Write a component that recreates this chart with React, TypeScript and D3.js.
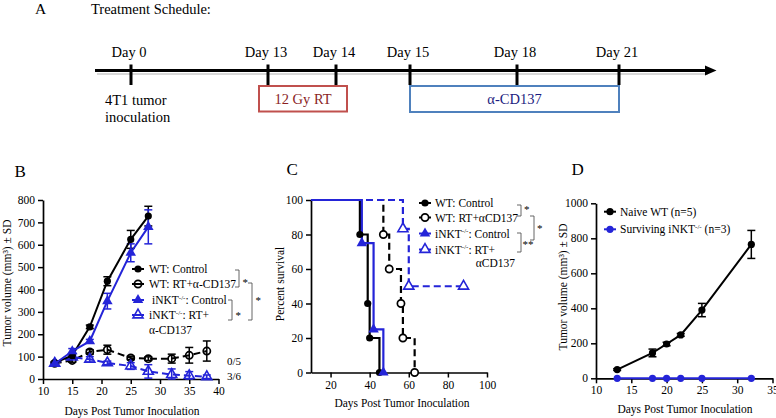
import React, { useEffect, useRef } from "react";
import * as d3 from "d3";

const FONT = "'Liberation Serif', 'Times New Roman', serif";
const BLUE = "#2424d8";
const BLACK = "#000";

// ---------- Panel A: treatment schedule ----------
const scheduleDays = [0, 13, 14, 15, 18, 21];
const scheduleLabels = ["Day 0", "Day 13", "Day 14", "Day 15", "Day 18", "Day 21"];
const rtWindow = [13, 14];
const cd137Window = [15, 21];

// ---------- Panel B: tumor growth ----------
const bDaysControl = [12, 15, 18, 21, 25, 28];
const bDaysTreated = [12, 15, 18, 21, 25, 28, 32, 35, 38];
const bWtControl = [72, 105, 233, 437, 624, 728];
const bWtControlSd = [6, 8, 8, 20, 40, 44];
const bKoControl = [68, 124, 169, 348, 564, 680];
const bKoControlSd = [6, 12, 8, 35, 40, 76];
const bWtRt = [70, 83, 121, 131, 94, 91, 91, 106, 125];
const bWtRtSd = [5, 8, 10, 20, 8, 8, 20, 35, 45];
const bKoRt = [70, 98, 88, 72, 58, 34, 20, 15, 10];
const bKoRtSd = [5, 8, 12, 8, 15, 30, 25, 18, 8];
const bXTicks = [10, 15, 20, 25, 30, 35, 40];
const bYTicks = [0, 100, 200, 300, 400, 500, 600, 700, 800];

// ---------- Panel C: survival ----------
const cWtControlDays = [10, 35, 39, 40, 45];
const cWtControlSurv = [100, 80, 40, 20, 0];
const cWtRtDays = [10, 47, 50, 56, 57, 63];
const cWtRtSurv = [100, 80, 60, 40, 20, 0];
const cKoControlDays = [10, 36, 42, 47];
const cKoControlSurv = [100, 75, 25, 0];
const cKoRtDays = [10, 57, 60, 88];
const cKoRtSurv = [100, 83.3, 50, 50];
const cXTicks = [20, 40, 60, 80, 100];
const cYTicks = [0, 20, 40, 60, 80, 100];

// ---------- Panel D: rechallenge ----------
const dDays = [13, 18, 20, 22, 25, 32];
const dNaive = [50, 145, 196, 248, 390, 765];
const dNaiveSd = [5, 22, 10, 8, 38, 80];
const dSurviving = [0, 0, 0, 0, 0, 0];
const dXTicks = [10, 15, 20, 25, 30, 35];
const dYTicks = [0, 200, 400, 600, 800, 1000];

type Sel = d3.Selection<any, any, any, any>;

function marker(g: Sel, kind: string, cx: number, cy: number, color: string, fill = "none") {
  if (kind === "circle") {
    g.append("circle").attr("cx", cx).attr("cy", cy).attr("r", 3.6).attr("fill", color);
  } else if (kind === "ocircle") {
    g.append("circle").attr("cx", cx).attr("cy", cy).attr("r", 3.6)
      .attr("fill", fill).attr("stroke", color).attr("stroke-width", 1.7);
  } else if (kind === "tri") {
    g.append("path").attr("d", d3.symbol(d3.symbolTriangle, 48)())
      .attr("transform", `translate(${cx},${cy})`).attr("fill", color);
  } else if (kind === "otri") {
    g.append("path").attr("d", d3.symbol(d3.symbolTriangle, 44)())
      .attr("transform", `translate(${cx},${cy})`)
      .attr("fill", fill).attr("stroke", color).attr("stroke-width", 1.6);
  }
}

function axes(g: Sel, x: any, y: any, xTicks: number[], yTicks: number[]) {
  const y0 = y.range()[0];
  const x0 = x.range()[0];
  const ax = g.append("g").attr("transform", `translate(0,${y0})`)
    .call(d3.axisBottom(x).tickValues(xTicks).tickSize(5).tickSizeOuter(0).tickFormat(d3.format("d")));
  const ay = g.append("g").attr("transform", `translate(${x0},0)`)
    .call(d3.axisLeft(y).tickValues(yTicks).tickSize(5).tickSizeOuter(0).tickFormat(d3.format("d")));
  [ax, ay].forEach((a) => {
    a.attr("font-family", FONT).attr("font-size", 11.5);
    a.select(".domain").attr("stroke-width", 1.7).attr("stroke", BLACK);
    a.selectAll(".tick line").attr("stroke-width", 1.5).attr("stroke", BLACK);
    a.selectAll(".tick text").attr("fill", BLACK);
  });
}

function koText(t: Sel, before: string, after: string) {
  t.append("tspan").text(before + "iNKT");
  t.append("tspan").attr("font-size", 7).attr("dy", -4.5).text("-/-");
  t.append("tspan").attr("dy", 4.5).text(after);
}

function legendRow(g: Sel, mx: number, cy: number, kind: string, color: string, fill = "none") {
  g.append("line").attr("x1", mx - 6).attr("x2", mx + 6).attr("y1", cy).attr("y2", cy)
    .attr("stroke", color).attr("stroke-width", 2);
  marker(g, kind, mx, cy, color, fill);
}

function bracket(g: Sel, x: number, y1: number, y2: number, stars: string, sx: number, sy: number) {
  g.append("path").attr("d", `M${x - 4},${y1}H${x}V${y2}H${x - 4}`)
    .attr("fill", "none").attr("stroke", "#555").attr("stroke-width", 0.9);
  g.append("text").attr("x", sx).attr("y", sy).attr("font-size", 11).text(stars);
}

function errorSeries(g: Sel, x: any, y: any, days: number[], vals: number[], sds: number[], color: string) {
  days.forEach((d, i) => {
    const cx = x(d);
    const top = y(vals[i] + sds[i]);
    const bot = y(Math.max(0, vals[i] - sds[i]));
    g.append("line").attr("x1", cx).attr("x2", cx).attr("y1", top).attr("y2", bot)
      .attr("stroke", color).attr("stroke-width", 1.5);
    [top, bot].forEach((yy) =>
      g.append("line").attr("x1", cx - 4).attr("x2", cx + 4).attr("y1", yy).attr("y2", yy)
        .attr("stroke", color).attr("stroke-width", 1.5));
  });
}

function lineSeries(g: Sel, x: any, y: any, days: number[], vals: number[], color: string, dashed: boolean, kind: string, fill = "none") {
  const line = d3.line<number>().x((_, i) => x(days[i])).y((v) => y(v));
  g.append("path").attr("d", line(vals)).attr("fill", "none").attr("stroke", color)
    .attr("stroke-width", 2).attr("stroke-dasharray", dashed ? "7,4" : null);
  days.forEach((d, i) => marker(g, kind, x(d), y(vals[i]), color, fill));
}

function drawA(svg: Sel) {
  const g = svg.append("g");
  g.append("text").attr("x", 35).attr("y", 13.5).attr("font-size", 15.5).text("A");
  g.append("text").attr("x", 91).attr("y", 14).attr("font-size", 14.5).text("Treatment Schedule:");
  const x = d3.scaleLinear().domain(scheduleDays).range([131, 268, 336, 410, 517, 619]);
  const ly = 70.5;
  g.append("line").attr("x1", 97).attr("x2", 708).attr("y1", ly + 3.5).attr("y2", ly + 3.5)
    .attr("stroke", "#d8d8d8").attr("stroke-width", 2);
  g.append("line").attr("x1", 95).attr("x2", 708).attr("y1", ly).attr("y2", ly)
    .attr("stroke", BLACK).attr("stroke-width", 3);
  g.append("path").attr("d", `M705,${ly - 5}L716.5,${ly}L705,${ly + 5}Z`).attr("fill", BLACK);
  scheduleDays.forEach((d, i) => {
    g.append("line").attr("x1", x(d)).attr("x2", x(d)).attr("y1", 64.5).attr("y2", 85)
      .attr("stroke", BLACK).attr("stroke-width", 3);
    g.append("text").attr("x", x(d) - 2).attr("y", 56.5).attr("text-anchor", "middle")
      .attr("font-size", 14.5).text(scheduleLabels[i]);
  });
  // RT box
  const rx0 = x(rtWindow[0]) - 9, rx1 = x(rtWindow[1]) + 11;
  g.append("rect").attr("x", rx0).attr("y", 86).attr("width", rx1 - rx0).attr("height", 25.5)
    .attr("fill", "#fff").attr("stroke", "#c0504d").attr("stroke-width", 2);
  g.append("text").attr("x", (rx0 + rx1) / 2).attr("y", 104).attr("text-anchor", "middle")
    .attr("font-size", 14.5).attr("fill", "#8b1f1f").text("12 Gy RT");
  const cx0 = x(cd137Window[0]), cx1 = x(cd137Window[1]);
  g.append("rect").attr("x", cx0).attr("y", 86).attr("width", cx1 - cx0).attr("height", 26)
    .attr("fill", "#fff").attr("stroke", "#4f81bd").attr("stroke-width", 2);
  g.append("text").attr("x", (cx0 + cx1) / 2).attr("y", 104).attr("text-anchor", "middle")
    .attr("font-size", 14.5).attr("fill", "#1c1c80").text("α-CD137");
  g.append("text").attr("x", 105).attr("y", 104.5).attr("font-size", 14.5).text("4T1 tumor");
  g.append("text").attr("x", 105).attr("y", 121.5).attr("font-size", 14.5).text("inoculation");
}

function drawB(svg: Sel) {
  const g = svg.append("g");
  g.append("text").attr("x", 14.5).attr("y", 176.5).attr("font-size", 17).text("B");
  const x = d3.scaleLinear().domain([10, 40]).range([43, 218.5]);
  const y = d3.scaleLinear().domain([0, 800]).range([379, 200]);
  axes(g, x, y, bXTicks, bYTicks);
  const yt = g.append("text").attr("transform", "translate(11,283) rotate(-90)")
    .attr("text-anchor", "middle").attr("font-size", 11.5);
  yt.text("Tumor volume (mm³) ± SD");
  g.append("text").attr("x", 132).attr("y", 415).attr("text-anchor", "middle").attr("font-size", 11.5)
    .text("Days Post Tumor Inoculation");

  errorSeries(g, x, y, bDaysTreated, bWtRt, bWtRtSd, BLACK);
  errorSeries(g, x, y, bDaysTreated, bKoRt, bKoRtSd, BLUE);
  errorSeries(g, x, y, bDaysControl, bWtControl, bWtControlSd, BLACK);
  errorSeries(g, x, y, bDaysControl, bKoControl, bKoControlSd, BLUE);
  lineSeries(g, x, y, bDaysTreated, bWtRt, BLACK, true, "ocircle");
  lineSeries(g, x, y, bDaysTreated, bKoRt, BLUE, true, "otri");
  lineSeries(g, x, y, bDaysControl, bWtControl, BLACK, false, "circle");
  lineSeries(g, x, y, bDaysControl, bKoControl, BLUE, false, "tri");

  g.append("text").attr("x", 227).attr("y", 364.5).attr("font-size", 11).text("0/5");
  g.append("text").attr("x", 227).attr("y", 379.5).attr("font-size", 11).text("3/6");

  // legend
  const L = g.append("g").attr("font-size", 11.5);
  legendRow(L, 138, 269, "circle", BLACK);
  legendRow(L, 138, 284, "ocircle", BLACK);
  legendRow(L, 138, 300, "tri", BLUE);
  legendRow(L, 138, 315, "otri", BLUE);
  L.append("text").attr("x", 149).attr("y", 273).text("WT: Control");
  L.append("text").attr("x", 149).attr("y", 288).text("WT: RT+α-CD137");
  koText(L.append("text").attr("x", 152).attr("y", 304), "", ": Control");
  koText(L.append("text").attr("x", 149).attr("y", 319), "", ": RT+");
  L.append("text").attr("x", 149).attr("y", 333.5).text("α-CD137");
  bracket(g, 239, 270, 287, "*", 242.5, 286);
  bracket(g, 232, 300, 320, "*", 235.5, 319);
  bracket(g, 252, 283, 320, "*", 255.5, 304);
}

function drawC(svg: Sel) {
  const g = svg.append("g");
  g.append("text").attr("x", 286.5).attr("y", 175).attr("font-size", 17).text("C");
  const x = d3.scaleLinear().domain([10, 100]).range([311, 487]);
  const y = d3.scaleLinear().domain([0, 100]).range([372.5, 200]);
  axes(g, x, y, cXTicks, cYTicks);
  g.append("text").attr("transform", "translate(283.5,284) rotate(-90)")
    .attr("text-anchor", "middle").attr("font-size", 11.5).text("Percent survival");
  g.append("text").attr("x", 402).attr("y", 407).attr("text-anchor", "middle").attr("font-size", 11.5)
    .text("Days Post Tumor Inoculation");

  const step = (days: number[], vals: number[], color: string, dashed: boolean, kind: string, fill: string) => {
    const line = d3.line<number>().x((_, i) => x(days[i])).y((v) => y(v)).curve(d3.curveStepAfter);
    g.append("path").attr("d", line(vals)).attr("fill", "none").attr("stroke", color)
      .attr("stroke-width", 2.2).attr("stroke-dasharray", dashed ? "7,4" : null);
    return () => days.forEach((d, i) => { if (i > 0) marker(g, kind, x(d), y(vals[i]), color, fill); });
  };
  const m1 = step(cWtControlDays, cWtControlSurv, BLACK, false, "circle", "none");
  const m2 = step(cWtRtDays, cWtRtSurv, BLACK, true, "ocircle", "#fff");
  const m3 = step(cKoControlDays, cKoControlSurv, BLUE, false, "tri", "none");
  const m4 = step(cKoRtDays, cKoRtSurv, BLUE, true, "otri", "#fff");
  m1(); m2(); m3(); m4();

  const L = g.append("g").attr("font-size", 11.5);
  legendRow(L, 425, 203, "circle", BLACK);
  legendRow(L, 425, 217.5, "ocircle", BLACK, "#fff");
  legendRow(L, 425, 233.5, "tri", BLUE);
  legendRow(L, 425, 249.5, "otri", BLUE, "#fff");
  L.append("text").attr("x", 435).attr("y", 207).text("WT: Control");
  L.append("text").attr("x", 435).attr("y", 221.5).text("WT: RT+αCD137");
  koText(L.append("text").attr("x", 435).attr("y", 237.5), "", ": Control");
  koText(L.append("text").attr("x", 435).attr("y", 253.5), "", ": RT+");
  L.append("text").attr("x", 515).attr("y", 267).attr("text-anchor", "end").text("αCD137");
  bracket(g, 521, 205, 216, "*", 524, 213);
  bracket(g, 521, 233, 252, "**", 522.5, 248);
  bracket(g, 534, 216, 240, "*", 537, 232);
}

function drawD(svg: Sel) {
  const g = svg.append("g");
  g.append("text").attr("x", 571.5).attr("y", 175).attr("font-size", 17).text("D");
  const x = d3.scaleLinear().domain([10, 35]).range([596, 772.5]);
  const y = d3.scaleLinear().domain([0, 1000]).range([378.3, 203.3]);
  axes(g, x, y, dXTicks, dYTicks);
  g.append("text").attr("transform", "translate(567,287) rotate(-90)")
    .attr("text-anchor", "middle").attr("font-size", 11.5).text("Tumor volume (mm³) ± SD");
  g.append("text").attr("x", 685).attr("y", 412.5).attr("text-anchor", "middle").attr("font-size", 11.5)
    .text("Days Post Tumor Inoculation");
  errorSeries(g, x, y, dDays, dNaive, dNaiveSd, BLACK);
  lineSeries(g, x, y, dDays, dNaive, BLACK, false, "circle");
  lineSeries(g, x, y, dDays, dSurviving, BLUE, false, "circle");

  const L = g.append("g").attr("font-size", 11.5);
  legendRow(L, 610, 211.7, "circle", BLACK);
  legendRow(L, 610, 229.3, "circle", BLUE);
  L.append("text").attr("x", 620).attr("y", 215.7).text("Naive WT (n=5)");
  koText(L.append("text").attr("x", 620).attr("y", 233.3), "Surviving ", " (n=3)");
}

export default function App() {
  const ref = useRef<SVGSVGElement>(null);
  useEffect(() => {
    const svg = d3.select(ref.current);
    svg.selectAll("*").remove();
    svg.attr("font-family", FONT);
    drawA(svg);
    drawB(svg);
    drawC(svg);
    drawD(svg);
  }, []);
  return (
    <svg
      ref={ref}
      width={776}
      height={418}
      style={{ position: "absolute", left: 0, top: 0, background: "#fff" }}
    />
  );
}
